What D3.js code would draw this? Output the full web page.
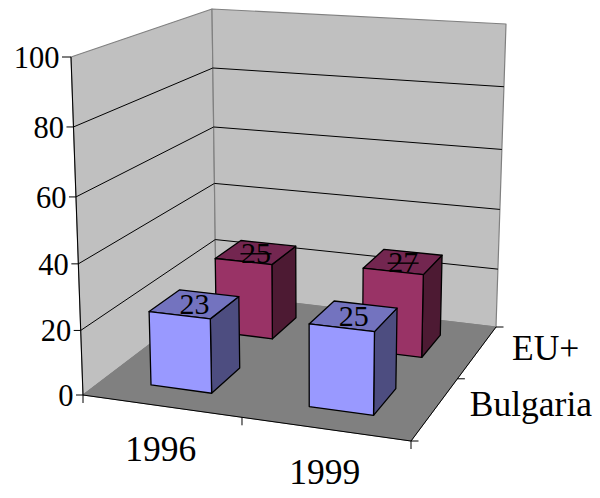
<!DOCTYPE html>
<html>
<head>
<meta charset="utf-8">
<script src="https://cdn.jsdelivr.net/npm/d3@7/dist/d3.min.js"></script>
<style>
html,body{margin:0;padding:0;background:#fff}
svg{display:block}
text{font-family:"Liberation Serif","Times New Roman",serif;fill:#000}
</style>
</head>
<body>
<svg id="chart" width="600" height="498"></svg>
<script>
// Chart data
const categories = ["1996", "1999"];
const seriesNames = ["Bulgaria", "EU+"];
const bulgaria = [23, 25];
const euPlus = [25, 27];
const valueTicks = [0, 20, 40, 60, 80, 100];

// Box corners on screen: front-left, front-right, back-right, back-left
const floorQuad = [[83, 395], [411, 441], [496, 327], [216, 294]];
const ceilQuad = [[71, 57], [418, 79.4], [506, 24], [212, 9]];

// Maps the unit square onto a quadrilateral (perspective plane)
function planeMap(q) {
  const [[x0, y0], [x1, y1], [x2, y2], [x3, y3]] = q;
  const dx1 = x1 - x2, dx2 = x3 - x2, sx = x0 - x1 + x2 - x3;
  const dy1 = y1 - y2, dy2 = y3 - y2, sy = y0 - y1 + y2 - y3;
  const det = dx1 * dy2 - dx2 * dy1;
  const g = (sx * dy2 - dx2 * sy) / det;
  const h = (dx1 * sy - sx * dy1) / det;
  const a = x1 - x0 + g * x1, b = x3 - x0 + h * x3;
  const d = y1 - y0 + g * y1, e = y3 - y0 + h * y3;
  return (u, v) => {
    const w = g * u + h * v + 1;
    return [(a * u + b * v + x0) / w, (d * u + e * v + y0) / w];
  };
}
const floorAt = planeMap(floorQuad);
const ceilAt = planeMap(ceilQuad);

// Foreshortened height along the vertical edges
const heightScale = d3.scaleLinear().domain(valueTicks).range([0, 0.191, 0.388, 0.586, 0.793, 1]);

function project(u, v, value) {
  const t = heightScale(value);
  const a = floorAt(u, v), b = ceilAt(u, v);
  return [a[0] + (b[0] - a[0]) * t, a[1] + (b[1] - a[1]) * t];
}

const catScale = d3.scaleBand().domain(categories).range([0, 1]).paddingInner(0.61).paddingOuter(0.305);
const serScale = d3.scaleBand().domain(seriesNames).range([0, 1]).paddingInner(0.56).paddingOuter(0.28);

const svg = d3.select("#chart");
const line = d3.line();
const poly = pts => line(pts) + "Z";

function face(pts, fill, stroke, width) {
  svg.append("path").attr("d", poly(pts)).attr("fill", fill)
    .attr("stroke", stroke).attr("stroke-width", width).attr("stroke-linejoin", "round");
}
function seg(a, b, stroke, width) {
  svg.append("path").attr("d", line([a, b])).attr("fill", "none")
    .attr("stroke", stroke).attr("stroke-width", width);
}

// Walls and floor
face([project(0, 0, 0), project(0, 1, 0), project(0, 1, 100), project(0, 0, 100)], "#c0c0c0", "#808080", 1.2);
face([project(0, 1, 0), project(1, 1, 0), project(1, 1, 100), project(0, 1, 100)], "#c0c0c0", "#808080", 1.2);
face([project(0, 0, 0), project(1, 0, 0), project(1, 1, 0), project(0, 1, 0)], "#808080", "#808080", 1);

// Gridlines run along both walls
valueTicks.slice(1, -1).forEach(t => {
  seg(project(0, 0, t), project(0, 1, t), "#000", 1);
  seg(project(0, 1, t), project(1, 1, t), "#000", 1);
});

// Axis lines
seg(project(0, 0, 0), project(0, 0, 100), "#000", 1);
seg(project(0, 0, 0), project(1, 0, 0), "#000", 1);
seg(project(1, 0, 0), project(1, 1, 0), "#000", 1);

// Value axis ticks and labels
valueTicks.forEach(t => {
  const p = project(0, 0, t);
  const tickLen = t === 100 ? 9 : 7;
  seg([p[0] - tickLen, p[1]], p, "#000", 1);
  svg.append("text").attr("x", p[0] - tickLen - 2.5).attr("y", p[1] + 11)
    .attr("text-anchor", "end").attr("font-size", 30.5).text(t);
});

// Category axis ticks and labels
[0, 0.5, 1].forEach(u => {
  const p = floorAt(u, 0);
  seg(p, [p[0], p[1] + 8], "#000", 1);
});
categories.forEach((c, i) => {
  const p = floorAt(catScale(c) + catScale.bandwidth() / 2, 0);
  svg.append("text").attr("x", p[0] - 0.5).attr("y", p[1] + 55)
    .attr("text-anchor", "middle").attr("font-size", 35.5).text(c);
});

// Series axis ticks and labels
[0, 0.5, 1].forEach(v => {
  const p = floorAt(1, v);
  seg(p, [p[0] + 7.5, p[1]], "#000", 1);
});
seriesNames.forEach(s => {
  const p = floorAt(1, serScale(s) + serScale.bandwidth() / 2);
  svg.append("text").attr("x", p[0] + 34.5).attr("y", p[1] + 8)
    .attr("text-anchor", "start").attr("font-size", 35.5).text(s);
});

// Column drawn as three visible faces
function drawBar(cat, ser, value, colors) {
  const u0 = catScale(cat), u1 = u0 + catScale.bandwidth();
  const v0 = serScale(ser), v1 = v0 + serScale.bandwidth();
  const P = (u, v, z) => project(u, v, z);
  face([P(u1, v0, 0), P(u1, v1, 0), P(u1, v1, value), P(u1, v0, value)], colors.side, "#000", 1.3);
  face([P(u0, v0, value), P(u1, v0, value), P(u1, v1, value), P(u0, v1, value)], colors.top, "#000", 1.3);
  face([P(u0, v0, 0), P(u1, v0, 0), P(u1, v0, value), P(u0, v0, value)], colors.front, "#000", 1.3);
}
const blueShades = { front: "#9999ff", top: "#7373bf", side: "#4d4d80" };
const maroonShades = { front: "#993366", top: "#732650", side: "#4d1a33" };

// Farther row first so nearer columns overlap it
categories.forEach((c, i) => drawBar(c, "EU+", euPlus[i], maroonShades));
categories.forEach((c, i) => drawBar(c, "Bulgaria", bulgaria[i], blueShades));

// Value labels centred on each column's top face
function drawLabel(cat, ser, value, struck) {
  const u = catScale(cat) + catScale.bandwidth() / 2;
  const v = serScale(ser) + serScale.bandwidth() / 2;
  const p = project(u, v, value);
  svg.append("text").attr("x", p[0]).attr("y", p[1] + 10.5)
    .attr("text-anchor", "middle").attr("font-size", 30).text(value);
  if (struck) seg([p[0] - 15.5, p[1] + 1.5], [p[0] + 15.5, p[1] + 1.5], "#000", 1.4);
}
categories.forEach((c, i) => drawLabel(c, "EU+", euPlus[i], true));
categories.forEach((c, i) => drawLabel(c, "Bulgaria", bulgaria[i], false));
</script>
</body>
</html>
